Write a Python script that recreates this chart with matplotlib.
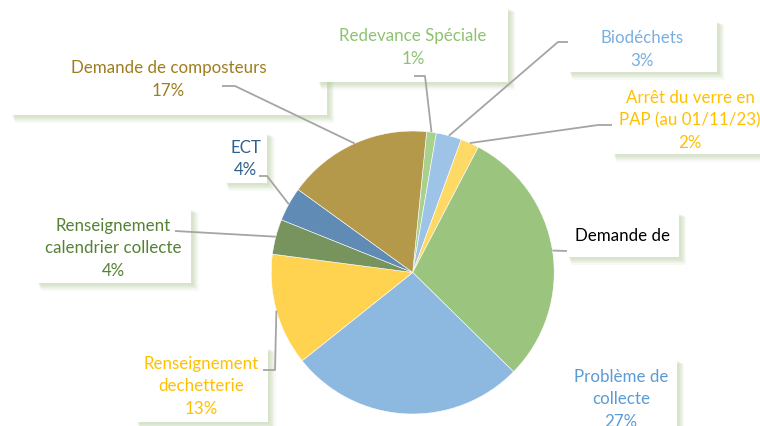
import matplotlib.pyplot as plt
from matplotlib.patches import Rectangle
import numpy as np

plt.rcParams['font.family'] = ['Lato', 'DejaVu Sans']

# data, clockwise from the top
labels = ['Redevance Spéciale', 'Biodéchets', 'Arrêt du verre en\nPAP (au 01/11/23)',
          'Demande de', 'Problème de\ncollecte', 'Renseignement\ndechetterie',
          'Renseignement\ncalendrier collecte', 'ECT', 'Demande de composteurs']
shares = [1.1, 2.9, 2.1, 29.7, 26.9, 12.8, 4.0, 3.9, 16.6]
show_pct = [True, True, True, False, True, True, True, True, True]

slice_colors = ['#A9D18E', '#9DC3E6', '#FFD966', '#9BC57E', '#8DB8E0',
                '#FFD34F', '#77945F', '#5F8BB4', '#B5994B']
text_colors = ['#8DC26F', '#7AAEE0', '#FFC000', '#000000', '#5B9BD5',
               '#FFC000', '#548235', '#2F5F8F', '#9E7D1E']

# label boxes in pixels (x0, y0, x1, y1), text centre x, first line y
boxes = [(317, 8, 508, 83), (568, 21, 717, 73), (612, 83, 775, 155),
         (567, 213, 679, 258), (566, 360, 677, 440), (135, 348, 268, 423),
         (36, 209, 191, 284), (224, 133, 267, 184), (10, 39, 327, 116)]
text_pos = [(413, 36), (642, 38), (690, 98), (623, 236), (621, 377),
            (201, 364), (113, 226), (245.5, 148), (168.5, 68)]
# leader line points from the box towards the slice
leaders = [[(414, 77), (425, 77)], [(568, 43), (558, 43)], [(612, 126), (598, 126)],
           [(567, 252)], None, [(263, 371), (275, 371)],
           [(175, 232)], [(259, 177), (267, 177)], [(222, 87), (235, 87)]]

cx, cy, r = 412.7, 273.5, 141.5
line_step = 22.5

fig = plt.figure(figsize=(7.6, 4.27), dpi=100)
ax = fig.add_axes([0, 0, 1, 1])

wedges, _ = ax.pie(shares, colors=slice_colors, center=(cx, cy), radius=r,
                   startangle=-90 + 5.66, counterclock=True,
                   wedgeprops=dict(edgecolor='white', linewidth=0.4))
ax.set_xlim(0, 760)
ax.set_ylim(427, 0)
ax.set_axis_off()

order = [8, 0, 1, 2, 3, 4, 5, 6, 7]
z = 5
for i in order:
    x0, y0, x1, y1 = boxes[i]
    # soft greenish shadow
    for k in range(6):
        ax.add_patch(Rectangle((x0 + 2 + k * 0.5, y0 + 2 + k * 0.5), x1 - x0 + k * 0.6, y1 - y0 + k * 0.6,
                               facecolor='#A9C48F', edgecolor='none', alpha=0.09, zorder=z))
    ax.add_patch(Rectangle((x0, y0), x1 - x0, y1 - y0, facecolor='white',
                           edgecolor='none', zorder=z + 1))
    lines = labels[i].split('\n')
    if show_pct[i]:
        lines.append(f'{round(shares[i])}%')
    tx, ty = text_pos[i]
    for j, line in enumerate(lines):
        ax.text(tx, ty + j * line_step, line, ha='center', va='center', fontsize=12.2,
                color=text_colors[i], zorder=z + 2)
    z += 3

for i, w in enumerate(wedges):
    if leaders[i] is None:
        continue
    mid = np.deg2rad((w.theta1 + w.theta2) / 2)
    end = (cx + r * np.cos(mid), cy + r * np.sin(mid))
    pts = leaders[i] + [end]
    xs, ys = zip(*pts)
    ax.plot(xs, ys, color='#A5A5A5', lw=1.3, zorder=100, solid_capstyle='butt')

fig.savefig('out.png', dpi=100)
